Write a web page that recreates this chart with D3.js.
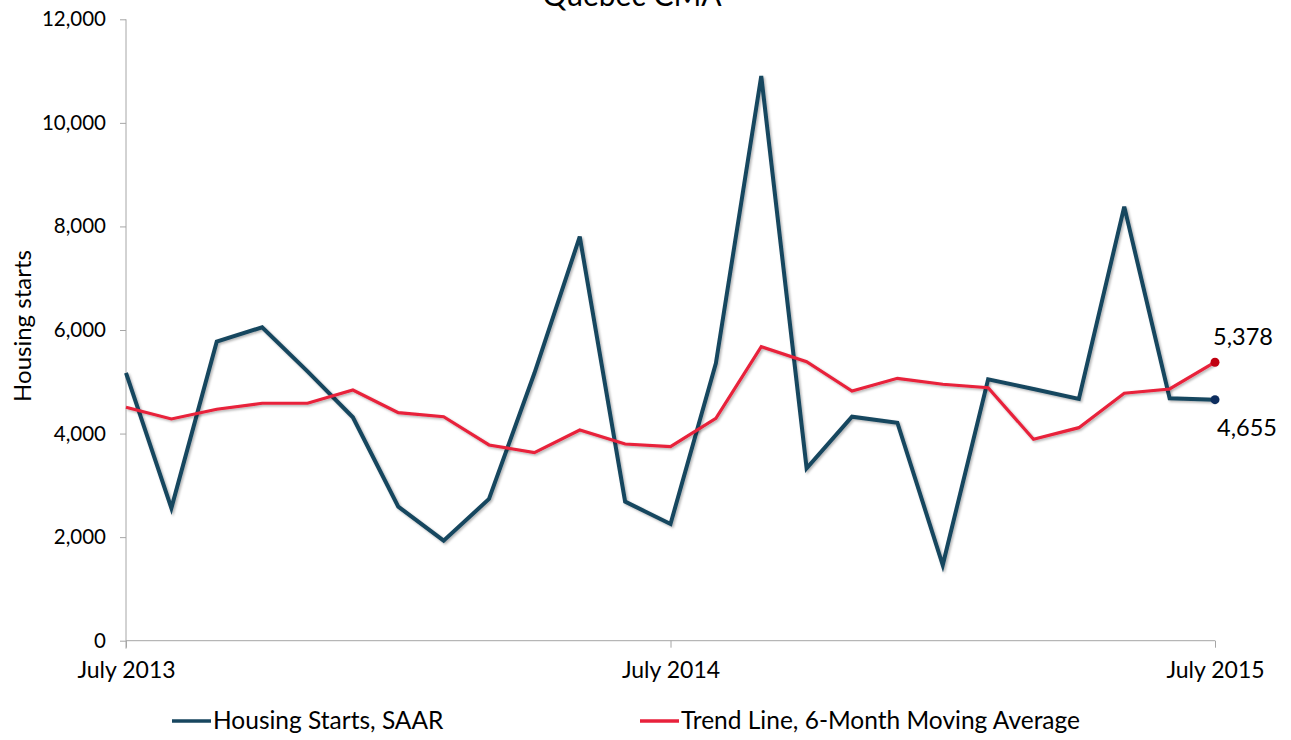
<!DOCTYPE html>
<html><head><meta charset="utf-8">
<script src="https://cdn.jsdelivr.net/npm/d3@7"></script>
<style>body{margin:0;background:#fff}svg{display:block;font-family:Lato,"Open Sans",sans-serif}</style>
</head><body><svg id="c" width="1291" height="740"></svg>
<script>
const months = ["Jul 2013","Aug 2013","Sep 2013","Oct 2013","Nov 2013","Dec 2013","Jan 2014","Feb 2014","Mar 2014","Apr 2014","May 2014","Jun 2014","Jul 2014","Aug 2014","Sep 2014","Oct 2014","Nov 2014","Dec 2014","Jan 2015","Feb 2015","Mar 2015","Apr 2015","May 2015","Jun 2015","Jul 2015"];
const starts = [5170,2560,5775,6053,5200,4315,2590,1931,2737,5164,7802,2685,2254,5357,10906,3329,4326,4210,1462,5048,4861,4668,8382,4681,4655];
const trend = [4507,4282,4469,4585,4585,4842,4404,4326,3780,3631,4069,3799,3747,4295,5678,5388,4822,5067,4952,4886,3889,4114,4778,4861,5378];
const xTickLabels = {"Jul 2013":"July 2013","Jul 2014":"July 2014","Jul 2015":"July 2015"};
const yTicks = [0,2000,4000,6000,8000,10000,12000];
const title = "Quebec CMA";
const yTitle = "Housing starts";
const seriesNames = ["Housing Starts, SAAR","Trend Line, 6-Month Moving Average"];

const svg = d3.select("#c");
const L=126, R=1215, T=19.3, B=640.7;
const x = d3.scalePoint().domain(months).range([L,R]);
const y = d3.scaleLinear().domain([0,12000]).range([B,T]);
const blue="#17465f", red="#e8213b";

const defs = svg.append("defs");
const f = defs.append("filter").attr("id","sh").attr("x","-5%").attr("y","-5%").attr("width","110%").attr("height","110%");
f.append("feDropShadow").attr("dx",1.5).attr("dy",1.5).attr("stdDeviation",1.2).attr("flood-color","#000").attr("flood-opacity",0.3);

svg.append("text").attr("x",632).attr("y",6).attr("text-anchor","middle").attr("font-size",30).attr("fill","#000").text(title);

const ya = svg.append("g").attr("transform",`translate(${L},0)`)
  .call(d3.axisLeft(y).tickValues(yTicks).tickSize(6).tickPadding(14).tickFormat(d3.format(",")));
ya.select(".domain").attr("stroke","#a6a6a6").attr("d",`M0,${T}V${B+8}`);
ya.selectAll(".tick line").attr("stroke","#a6a6a6");
ya.selectAll(".tick text").attr("font-size",20.5).attr("fill","#000").attr("font-family","Lato,sans-serif");

const xa = svg.append("g").attr("transform",`translate(0,${B})`)
  .call(d3.axisBottom(x).tickValues(Object.keys(xTickLabels)).tickSize(7).tickPadding(14).tickFormat(d=>xTickLabels[d]));
xa.select(".domain").attr("stroke","#a6a6a6").attr("d",`M${L},0H${R}`);
xa.selectAll(".tick line").attr("stroke","#a6a6a6");
xa.selectAll(".tick text").attr("font-size",23).attr("fill","#000").attr("font-family","Lato,sans-serif");

svg.append("text").attr("transform","translate(31,326) rotate(-90)").attr("text-anchor","middle").attr("font-size",24).attr("fill","#000").text(yTitle);

const line = d3.line().x((d,i)=>x(months[i])).y(d=>y(d));
svg.append("path").datum(starts).attr("d",line).attr("fill","none").attr("stroke",blue).attr("stroke-width",4).attr("stroke-linejoin","miter").attr("filter","url(#sh)");
svg.append("path").datum(trend).attr("d",line).attr("fill","none").attr("stroke",red).attr("stroke-width",3.2).attr("filter","url(#sh)");

const last = months.length-1;
svg.append("circle").attr("cx",x(months[last])).attr("cy",y(trend[last])).attr("r",4.5).attr("fill","#c00010");
svg.append("circle").attr("cx",x(months[last])).attr("cy",y(starts[last])).attr("r",4.5).attr("fill","#0d2d5e");
svg.append("text").attr("x",1243).attr("y",345).attr("text-anchor","middle").attr("font-size",23.5).attr("fill","#000").text(d3.format(",")(trend[last]));
svg.append("text").attr("x",1247).attr("y",436).attr("text-anchor","middle").attr("font-size",23.5).attr("fill","#000").text(d3.format(",")(starts[last]));

const leg = [{n:seriesNames[0],c:blue,x0:172},{n:seriesNames[1],c:red,x0:640}];
leg.forEach(l=>{
  svg.append("line").attr("x1",l.x0).attr("x2",l.x0+39).attr("y1",721).attr("y2",721).attr("stroke",l.c).attr("stroke-width",3.5);
  svg.append("text").attr("x",l.x0+41).attr("y",729).attr("font-size",24.5).attr("fill","#000").text(l.n);
});
</script></body></html>
